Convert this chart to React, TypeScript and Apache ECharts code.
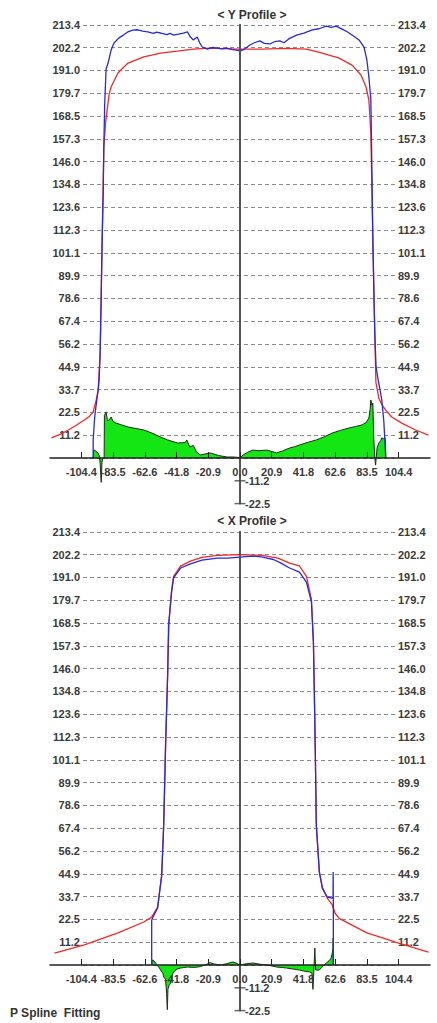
import React, { useEffect, useRef } from "react";
import * as echarts from "echarts";

// ---- axis ticks ----
const yStep = 11.234;
const yMax = 19 * yStep; // 213.4
const yMin = -2 * yStep; // -22.5
const yNegTicks = [-11.234, -22.468];
const xTicks = [-104.4, -83.52, -62.64, -41.76, -20.88, 0, 20.88, 41.76, 62.64, 83.52, 104.4];

// ---- Y profile ----
const yProfileMeasured: number[][] = [
  [-96.6, 0], [-96.6, 9], [-95.8, 18], [-95.3, 22.2], [-94.3, 28], [-93.3, 33.5], [-92.7, 38.4], [-92.0, 51.7],
  [-91.3, 80], [-90.7, 107], [-90.0, 130], [-89.6, 153], [-89.0, 175], [-88.1, 191.7], [-86.8, 194.6],
  [-84.8, 201], [-82.9, 204.5], [-79.6, 207], [-76.5, 208.5], [-73.7, 210], [-70.5, 210.8], [-67.2, 211],
  [-64, 210.3], [-60.7, 210], [-57, 209.2], [-55, 209.8], [-52.2, 209.4], [-48, 208.6], [-46, 209.2],
  [-43.7, 208.4], [-40.5, 208.8], [-37.2, 209.4], [-34.6, 210], [-32.6, 207.4], [-30.7, 206], [-28.1, 207.4],
  [-26.5, 204.5], [-24.8, 202.5], [-21.5, 201.5], [-18, 202.3], [-15, 202], [-12, 201.6], [-8.5, 202],
  [-5, 201.2], [-2, 201], [0, 200.5], [3, 201.5], [6.5, 203.5], [9.5, 204.6], [13, 205.5], [16, 204.3],
  [19.6, 204], [23, 205.2], [26.1, 205.5], [29, 204.6], [32, 206.5], [37.2, 208.4], [42, 209.3], [47.6, 210.9],
  [52, 211.5], [56.8, 212.8], [60, 212.2], [63.3, 212.8], [67.2, 211.3], [70.5, 210], [73.7, 208.4],
  [78.3, 206], [81.6, 202.5], [83.5, 196], [84.8, 187.7], [86.1, 176.4], [86.8, 140], [87.4, 107.4],
  [88.1, 80], [88.7, 61.1], [89.5, 45], [90.7, 39.4], [93.3, 28.6], [94.6, 18.2], [95.3, 8.9], [95.9, 0],
];
const yProfileFit: number[][] = [
  [-124, 9.9], [-118, 11.8], [-112.9, 13.8], [-108, 16], [-102.4, 18.7], [-99, 20.6], [-96.6, 22.7],
  [-94.6, 28.6], [-93.3, 33.5], [-92, 51.7], [-90.7, 107], [-89.6, 153], [-88.4, 165.5], [-86.1, 179.3],
  [-84.8, 182.8], [-80.3, 189.7], [-73.7, 194.6], [-63.3, 197.6], [-52.2, 199.5], [-41.1, 200.5],
  [-30.7, 201.5], [-19.6, 202], [-2, 201.5], [15, 201.5], [30, 201.8], [43.7, 201.5], [54.2, 199.5],
  [65.2, 197], [73.7, 193.6], [79.6, 188.7], [82.9, 182.8], [84.8, 176.4], [86.1, 160], [87.4, 107.4],
  [88.7, 61.1], [89.4, 37.4], [91.3, 29.6], [93.5, 26], [95.9, 23.6], [99.8, 20.2], [106.4, 17.2],
  [115.5, 13.8], [124, 11.3],
];
const yProfileDiff: number[][] = [
  [-96.6, 0], [-96.3, 4], [-95, 3.5], [-93.5, 2.5], [-92.5, 1], [-92, -3], [-91.3, -12], [-90.8, -2],
  [-90.2, 0], [-89.4, 0], [-89.2, 21], [-88.1, 22.7], [-87.2, 18.5], [-86.1, 18.7], [-84.8, 20.2],
  [-83.5, 18], [-81.6, 17.2], [-77.5, 16.2], [-73.7, 15.3], [-69, 14.6], [-63.3, 13.8], [-58, 12.3],
  [-52.2, 10.3], [-47.6, 8.9], [-41.1, 7.4], [-36, 7.6], [-35, 8.9], [-33, 5.4], [-30.7, 6.2], [-28.7, 3],
  [-26.1, 1.5], [-19.6, 2.5], [-14, 1.2], [-8.5, 0.5], [-4.6, 0.5], [-1, 0.3], [0, 0], [2, 1.5], [5, 2.8],
  [8.5, 3.9], [12, 3.6], [17.6, 3.9], [21, 3.2], [24.1, 2.5], [28, 3.5], [32.6, 4.9], [36, 5.6], [39.1, 6.4],
  [45, 7.8], [50.2, 8.9], [55, 10.3], [60.7, 12.3], [66, 13.6], [71.8, 14.8], [76, 15.5], [80.3, 16.3],
  [83, 17.5], [84.8, 19.7], [85.6, 24], [86.1, 28.6], [86.8, 26], [87.4, 27], [88, 10], [88.7, 0],
  [89.2, -3.5], [89.6, 0], [90.2, 5], [91.3, 7.4], [92.5, 8.5], [93.3, 9.9], [94.5, 9.5], [95.3, 10.3],
  [95.7, 8], [95.9, 0],
];

// ---- X profile ----
const xProfileMeasured: number[][] = [
  [-58.1, 0], [-58.1, 10], [-58.1, 22], [-57.5, 23.2], [-54.2, 28.1], [-51.5, 44.3], [-50.2, 69],
  [-48.9, 109.9], [-47.6, 142.9], [-47.0, 167.5], [-45, 183.8], [-43.7, 190.7], [-39.1, 195.6],
  [-32.6, 197.6], [-25, 199.5], [-15, 200.5], [-8, 200.5], [0, 201], [8, 201.5], [15, 201], [22, 199.8],
  [27, 198], [32.6, 195.6], [39.1, 193.6], [43.7, 188.7], [47, 178.9], [48.3, 159.1], [48.9, 134.5],
  [49.6, 102], [50.2, 69], [52.2, 45.8], [54.2, 37.9], [57.4, 33.5], [60.7, 33], [61.2, 33.5],
  [61.3, 45.8], [61.4, 30], [61.4, 0],
];
const xProfileFit: number[][] = [
  [-122, 5.9], [-102.4, 9.9], [-80.3, 15.8], [-63.3, 21.2], [-58.1, 23.6], [-54.2, 28.5], [-51.5, 44.3],
  [-50.2, 69], [-48.9, 110], [-47.6, 143], [-46.8, 168], [-45, 184.5], [-43.7, 191.5], [-39.1, 196.5],
  [-32.6, 199], [-25, 200.8], [-15, 201.8], [0, 202.2], [15, 201.8], [25, 200.5], [32.6, 198],
  [39.1, 196.6], [43.7, 191.5], [47, 180], [48.3, 159], [48.9, 134.5], [49.6, 102], [50.2, 69],
  [52.2, 46], [54.2, 38], [57.4, 33], [60.7, 29.6], [62.6, 25.5], [65.2, 23], [83.5, 15.8],
  [104.4, 10.8], [124, 6.4],
];
const xProfileDiff: number[][] = [
  [-58.1, 0], [-57.8, 2.5], [-56.5, 2], [-55.5, 1], [-54.5, 0], [-53, -1.5], [-52.2, -2.5], [-50.8, -4],
  [-50.2, -5.9], [-49, -7], [-48.3, -14], [-47.8, -22], [-47.4, -12], [-46.6, -10], [-45.7, -9],
  [-44.6, -5], [-43.7, -3.4], [-41.5, -2], [-39.1, -1.5], [-34.6, -1], [-30, -1.2], [-26.1, -0.8],
  [-22, 0.3], [-19.6, 1.2], [-17, 0.5], [-13, 0], [-9, 0.6], [-4.6, 1.5], [-2, 0.8], [0, 0], [4, 0.6],
  [8.5, 1], [13, 0.4], [17.6, 0], [21, -0.5], [24.1, -1], [27, -1.2], [30.7, -1.5], [35, -2],
  [39.1, -2.5], [42, -3], [45.7, -3.4], [47.3, -4], [48, -12], [48.6, -3], [49.2, 8.4], [49.8, -2.5],
  [52.2, -2.5], [54.5, -0.5], [56.8, 1], [58.5, 2], [60, 3.4], [60.7, 5.9], [61.2, 8], [61.3, 13.3],
  [61.4, 0],
];

const FONT = "Liberation Sans";
const labelStyle = { fontFamily: FONT, fontWeight: "bold" as const, fontSize: 11, color: "#3a3a3a" };
const STEP_PX = 22.8;
const X_MIN = -125;
const X_MAX = 125;
const DATA_LEFT = 50;
const DATA_WIDTH = 380;

export default function App() {
  const ref = useRef<HTMLDivElement>(null);
  useEffect(() => {
    if (!ref.current) return;
    const chart = echarts.init(ref.current, null, { renderer: "svg" });
    const zeros = [458, 965];
    const grids: any[] = [];
    const xAxes: any[] = [];
    const yAxes: any[] = [];
    const series: any[] = [];
    const panels = [
      { meas: yProfileMeasured, fit: yProfileFit, diff: yProfileDiff },
      { meas: xProfileMeasured, fit: xProfileFit, diff: xProfileDiff },
    ];
    // pixel offset of x=0 from the data grid's left edge
    const zeroX = ((0 - X_MIN) / (X_MAX - X_MIN)) * DATA_WIDTH;
    panels.forEach((p, i) => {
      const zero = zeros[i];
      const top = zero - 19 * STEP_PX;
      const gi = grids.length;
      grids.push({ left: 83, right: 42, top, height: 19 * STEP_PX });
      grids.push({ left: DATA_LEFT, width: DATA_WIDTH, top, height: 21 * STEP_PX });
      xAxes.push({ gridIndex: gi, type: "value", min: -1, max: 1, show: false });
      xAxes.push({
        gridIndex: gi + 1, type: "value", min: X_MIN, max: X_MAX, z: 5, position: "bottom",
        offset: -2 * STEP_PX,
        axisLine: { onZero: false, lineStyle: { color: "#222", width: 1.5 } },
        axisTick: { show: true, inside: true, length: 6, customValues: xTicks, lineStyle: { color: "#222", width: 1 } },
        axisLabel: { ...labelStyle, customValues: xTicks, margin: 8, formatter: (v: number) => v.toFixed(1) },
        splitLine: { show: false },
      });
      const yi = yAxes.length;
      yAxes.push({
        gridIndex: gi, type: "value", min: 0, max: yMax, interval: yStep, position: "left",
        axisLine: { show: false }, axisTick: { show: false },
        axisLabel: { ...labelStyle, margin: 3, formatter: (v: number) => (v > 0.1 ? v.toFixed(1) : "") },
        splitLine: { show: true, lineStyle: { color: "#8a8a8a", width: 1, type: [4, 3] } },
      });
      yAxes.push({
        gridIndex: gi, type: "value", min: 0, max: yMax, interval: yStep, position: "right",
        axisLine: { show: false }, axisTick: { show: false },
        axisLabel: { ...labelStyle, margin: 3, formatter: (v: number) => (v > 0.1 ? v.toFixed(1) : "") },
        splitLine: { show: false },
      });
      yAxes.push({
        gridIndex: gi + 1, type: "value", min: yMin, max: yMax, interval: yStep, position: "left", z: 5,
        offset: -zeroX,
        axisLine: { show: true, onZero: false, lineStyle: { color: "#555", width: 2 } },
        axisTick: { show: false },
        axisLabel: { ...labelStyle, inside: true, margin: 5, formatter: (v: number) => (v < -0.1 ? v.toFixed(1) : "") },
        splitLine: { show: false },
      });
      const common = { xAxisIndex: gi + 1, yAxisIndex: yi + 2, showSymbol: false, animation: false, silent: true };
      series.push({
        ...common, type: "line", data: p.diff, z: 2,
        lineStyle: { color: "#1b2b1b", width: 1 },
        areaStyle: { color: "#14e614", opacity: 1 },
      });
      series.push({ ...common, type: "line", data: p.fit, z: 3, lineStyle: { color: "#f02828", width: 1.3 } });
      series.push({ ...common, type: "line", data: p.meas, z: 4, lineStyle: { color: "#2828e0", width: 1.3 } });
      series.push({
        xAxisIndex: gi + 1, yAxisIndex: yi + 2, type: "scatter", z: 6, silent: true,
        data: yNegTicks.map((v) => [0, v]), symbol: "rect", symbolSize: [11, 1.5],
        itemStyle: { color: "#444" },
      });
    });

    chart.setOption({
      animation: false,
      backgroundColor: "#ffffff",
      textStyle: { fontFamily: FONT },
      grid: grids,
      xAxis: xAxes,
      yAxis: yAxes,
      series,
      graphic: [
        { type: "text", x: 252, y: 15, style: { text: "< Y Profile >", textAlign: "center", textVerticalAlign: "middle", font: `bold 12px "${FONT}"`, fill: "#333" } },
        { type: "text", x: 252, y: 521, style: { text: "< X Profile >", textAlign: "center", textVerticalAlign: "middle", font: `bold 12px "${FONT}"`, fill: "#333" } },
        { type: "text", x: 10, y: 1013, style: { text: "P Spline  Fitting", textAlign: "left", textVerticalAlign: "middle", font: `bold 12px "${FONT}"`, fill: "#333" } },
      ],
    });
    return () => chart.dispose();
  }, []);
  return <div ref={ref} style={{ position: "absolute", left: 0, top: 0, width: 437, height: 1023 }} />;
}
